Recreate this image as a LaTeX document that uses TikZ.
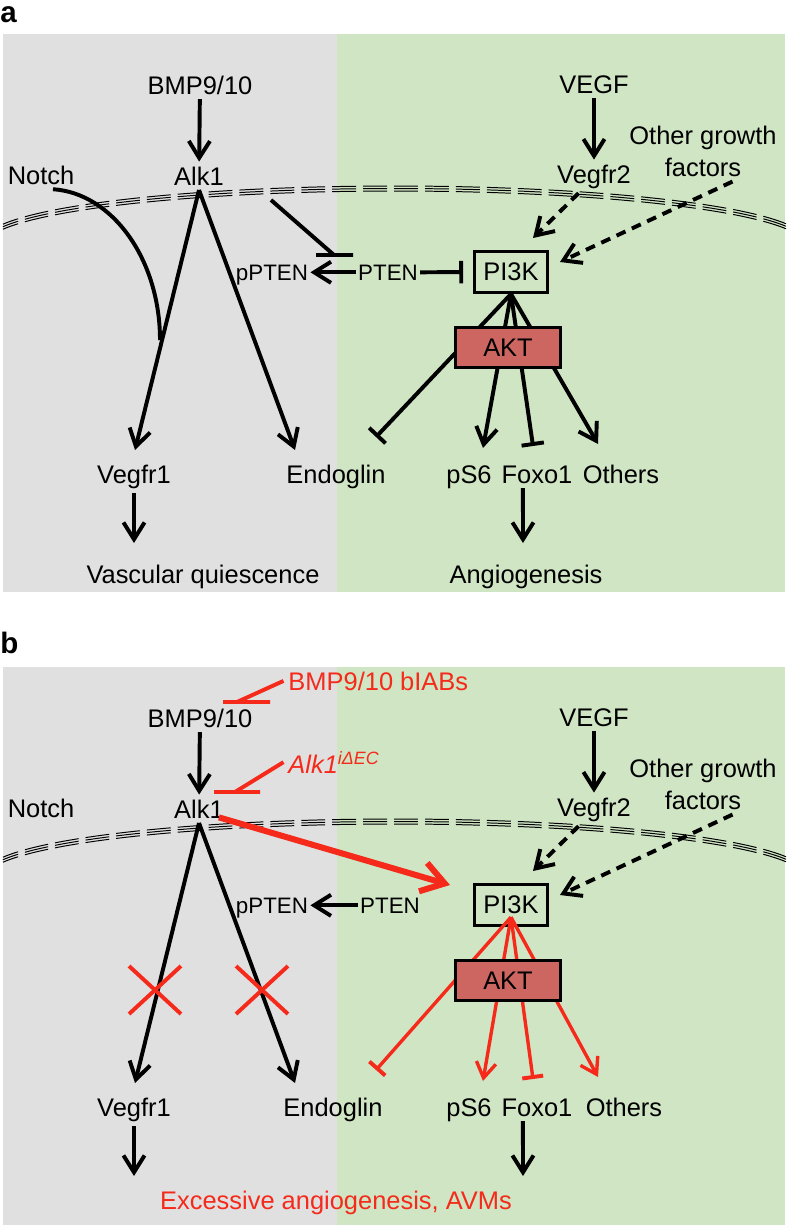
\documentclass[tikz,border=0pt]{standalone}
\usepackage{fontspec}
\setmainfont{Liberation Sans}
\usetikzlibrary{arrows.meta,shapes.misc}
\definecolor{quietgray}{HTML}{E0E0E0}
\definecolor{angiogreen}{HTML}{CFE5C4}
\definecolor{aktred}{HTML}{CD6661}
\definecolor{blockred}{HTML}{F52A1B}
\tikzset{
    lbl/.style ={
        anchor=base,
        font=\fontsize{18.1}{22.7}\selectfont
    },
    ptenlbl/.style ={
        anchor=base,
        inner sep=1.5pt,
        font=\fontsize{15.9}{19}\selectfont
    },
    tag/.style ={
        anchor=base west,
        inner sep=0pt,
        font=\fontsize{21}{25}\selectfont\bfseries
    },
    kinase/.style ={
        shape=rectangle,
        draw=black,
        line width=2.1pt,
        minimum width=1.825cm,
        minimum height=1.025cm,
        font=\fontsize{18.1}{22.7}\selectfont
    },
    akt/.style ={
        kinase,
        fill=aktred,
        minimum width=2.625cm,
        minimum height=1cm
    },
    ln/.style ={line width=2.8pt},
    act/.style ={line width=2.8pt, -{Straight Barb[length=12pt,width=15pt]}},
    inh/.style ={line width=2.8pt, -{Bar[width=16pt,line width=2.8pt]}},
    dsh/.style ={act, dash pattern=on 7pt off 5pt},
    mem/.style ={line width=0.7pt, dash pattern=on 17pt off 5pt},
    ract/.style ={draw=blockred, line width=2.4pt, -{Straight Barb[length=11pt,width=14pt]}},
    rinh/.style ={draw=blockred, line width=2.4pt, -{Bar[width=15pt,line width=2.8pt]}},
    rbig/.style ={draw=blockred, line width=4.3pt, -{Straight Barb[length=16pt,width=21pt]}},
    rbar/.style ={draw=blockred, line width=2.8pt},
    nogo/.style ={
        shape=cross out,
        draw=blockred,
        line width=2.8pt,
        minimum width=1.2cm,
        minimum height=1.1cm,
        inner sep=0pt
    }
}

\begin{document}
\begin{tikzpicture}[x=0.025cm, y=-0.025cm]
    \useasboundingbox (0,0) rectangle (788,1226);
    % panel a
    \fill[quietgray] (3,34) rectangle (337,592);
    \fill[angiogreen] (337,34) rectangle (785,592);
    \draw[mem] plot[domain=17.5:163, samples=90] ({395+410*cos(\x)}, {240-54*sin(\x)});
    \draw[mem] plot[domain=17.5:163, samples=90] ({395+410*cos(\x)}, {242.5-54*sin(\x)});
    \draw[mem] plot[domain=17.5:163, samples=90] ({395+410*cos(\x)}, {245-54*sin(\x)});
    \node[tag] (aTag) at (0,22) {a};
    \node[lbl] (aBMP) at (200,94) {BMP9/10};
    \node[lbl] (aAlk) at (199,185) {Alk1};
    \node[lbl] (aNotch) at (41,184) {Notch};
    \node[lbl] (aVEGF) at (594,93) {VEGF};
    \node[lbl] (aVegfrii) at (594,183) {Vegfr2};
    \node[lbl, anchor=north, align=center] (aOther) at (703,121) {Other growth\\factors};
    \node[ptenlbl] (apPTEN) at (272,280) {pPTEN};
    \node[ptenlbl] (aPTEN) at (388,280) {PTEN};
    \node[kinase] (aPI3K) at (511,272) {PI3K};
    \node[lbl] (aVegfri) at (134,483) {Vegfr1};
    \node[lbl] (aEndo) at (336,483) {Endoglin};
    \node[lbl] (apS6) at (469,483) {pS6};
    \node[lbl] (aFoxo) at (537,483) {Foxo1};
    \node[lbl] (aOthers) at (621,483) {Others};
    \node[lbl] (aVasc) at (203,583) {Vascular quiescence};
    \node[lbl] (aAngio) at (526,583) {Angiogenesis};
    \coordinate (aNotchEnd) at (160,340);
    \coordinate (aAlkR) at (271,200);
    \coordinate (aBlk) at (334,255);
    \coordinate (aVgT) at (135,450);
    \coordinate (aEnT) at (295,450);
    \coordinate (aEndT) at (376,437);
    \coordinate (aPsT) at (483,448);
    \coordinate (aFoxT) at (533,446);
    \coordinate (aOthT) at (598,444);
    \coordinate (aVqT) at (134,543);
    \coordinate (aAnT) at (523,543);
    \coordinate (aPIn) at (533,238);
    \coordinate (aPIe) at (560,262);
    \draw[act] (aBMP) -- (aAlk);
    \draw[act] (aVEGF) -- (aVegfrii);
    \draw[ln] ([xshift=8.5pt]aNotch.south) .. controls (112,193) and (160,259) .. (aNotchEnd);
    \draw[act] (aAlk.south) -- (aVgT);
    \draw[act] (aAlk.south) -- (aEnT);
    \draw[ln] (aAlkR) -- (aBlk) ++(-18,0) -- ++(37,0);
    \draw[act] (aPTEN.west) -- (aPTEN.west -| apPTEN.east);
    \draw[inh, shorten >=7pt] (aPTEN.east) -- (aPI3K.west);
    \draw[dsh] ([xshift=-11pt]aVegfrii.south) -- (aPIn);
    \draw[dsh] ([xshift=21pt]aOther.south) -- (aPIe);
    \draw[inh] (aPI3K.south) -- (aEndT);
    \draw[act] (aPI3K.south) -- (aPsT);
    \draw[inh] (aPI3K.south) -- (aFoxT);
    \draw[act] (aPI3K.south) -- (aOthT);
    \node[akt] (aAKT) at (508,347.5) {AKT};
    \draw[act] (aVegfri.south) -- (aVqT);
    \draw[act] ([xshift=-10pt]aFoxo.south) -- (aAnT);

    % panel b
    \fill[quietgray] (3,667) rectangle (337,1225);
    \fill[angiogreen] (337,667) rectangle (785,1225);
    \draw[mem] plot[domain=17.5:163, samples=90] ({395+410*cos(\x)}, {873-54*sin(\x)});
    \draw[mem] plot[domain=17.5:163, samples=90] ({395+410*cos(\x)}, {875.5-54*sin(\x)});
    \draw[mem] plot[domain=17.5:163, samples=90] ({395+410*cos(\x)}, {878-54*sin(\x)});
    \node[tag] (bTag) at (0,653) {b};
    \node[lbl, anchor=base west, text=blockred] (bBIAB) at (283.5,690) {BMP9/10 bIABs};
    \node[lbl, anchor=base west, text=blockred] (bAlkKO) at (283.5,773) {\itshape Alk1\textsuperscript{iΔEC}};
    \node[lbl] (bBMP) at (200,727) {BMP9/10};
    \node[lbl] (bAlk) at (199,818) {Alk1};
    \node[lbl] (bNotch) at (41,817) {Notch};
    \node[lbl] (bVEGF) at (594,726) {VEGF};
    \node[lbl] (bVegfrii) at (594,816) {Vegfr2};
    \node[lbl, anchor=north, align=center] (bOther) at (703,754) {Other growth\\factors};
    \node[ptenlbl] (bpPTEN) at (272,913) {pPTEN};
    \node[ptenlbl] (bPTEN) at (390,913) {PTEN};
    \node[kinase] (bPI3K) at (511,905) {PI3K};
    \node[lbl] (bVegfri) at (134,1116) {Vegfr1};
    \node[lbl] (bEndo) at (333,1116) {Endoglin};
    \node[lbl] (bpS6) at (469,1116) {pS6};
    \node[lbl] (bFoxo) at (537,1116) {Foxo1};
    \node[lbl] (bOthers) at (624,1116) {Others};
    \node[lbl, text=blockred] (bExcess) at (336,1209) {Excessive angiogenesis, AVMs};
    \coordinate (bBmpBar) at (237,702);
    \coordinate (bAlkBar) at (235,792);
    \coordinate (bVgT) at (135,1083);
    \coordinate (bEnT) at (295,1083);
    \coordinate (bEndT) at (376,1070);
    \coordinate (bPsT) at (483,1081);
    \coordinate (bFoxT) at (533,1079);
    \coordinate (bOthT) at (598,1077);
    \coordinate (bVqT) at (134,1176);
    \coordinate (bAnT) at (523,1176);
    \coordinate (bPIn) at (533,871);
    \coordinate (bPIe) at (560,895);
    \coordinate (bPIw) at (450,885);
    \draw[rbar] (bBIAB.west) -- (bBmpBar) ++(-14,0) -- ++(47,0);
    \draw[rbar] (bAlkKO.west) -- (bAlkBar) ++(-21,0) -- ++(46,0);
    \draw[act] (bBMP) -- (bAlk);
    \draw[act] (bVEGF) -- (bVegfrii);
    \draw[act] (bAlk.south) -- (bVgT);
    \draw[act] (bAlk.south) -- (bEnT);
    \node[nogo] (bXi) at (155,990) {};
    \node[nogo] (bXii) at (262,990) {};
    \draw[rbig] ([xshift=-7pt,yshift=4pt]bAlk.south east) -- (bPIw);
    \draw[act] (bPTEN.west) -- (bPTEN.west -| bpPTEN.east);
    \draw[dsh] ([xshift=-11pt]bVegfrii.south) -- (bPIn);
    \draw[dsh] ([xshift=21pt]bOther.south) -- (bPIe);
    \draw[rinh] ([yshift=7pt]bPI3K.south) -- (bEndT);
    \draw[ract] ([yshift=7pt]bPI3K.south) -- (bPsT);
    \draw[rinh] ([yshift=7pt]bPI3K.south) -- (bFoxT);
    \draw[ract] ([yshift=7pt]bPI3K.south) -- (bOthT);
    \node[akt] (bAKT) at (508,980.5) {AKT};
    \draw[act] (bVegfri.south) -- (bVqT);
    \draw[act] ([xshift=-10pt]bFoxo.south) -- (bAnT);
\end{tikzpicture}
\end{document}
